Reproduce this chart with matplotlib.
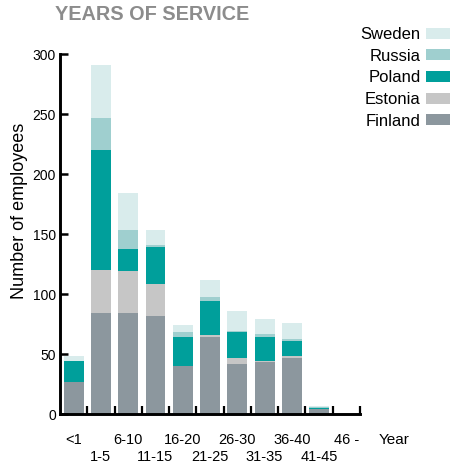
import matplotlib.pyplot as plt
import numpy as np

plt.rcParams['font.family'] = ['Liberation Sans', 'DejaVu Sans']

categories = ['<1', '1-5', '6-10', '11-15', '16-20', '21-25', '26-30',
              '31-35', '36-40', '41-45', '46 -']
finland = [27, 84, 84, 82, 40, 64, 42, 43, 47, 4, 0]
estonia = [0, 36, 35, 26, 0, 2, 5, 1, 1.5, 0, 0]
poland = [17, 100, 18.5, 31.5, 24, 28, 21, 20.5, 12.5, 1, 0]
russia = [0, 26.5, 16, 1, 4, 3.5, 1.5, 2, 1.5, 0.5, 0]
sweden = [4.5, 44, 30.5, 12.5, 6.5, 14, 16, 13, 13.5, 1, 0]

series = [('Finland', finland, '#8c979e'),
          ('Estonia', estonia, '#c6c6c6'),
          ('Poland', poland, '#009f9b'),
          ('Russia', russia, '#9fcfcf'),
          ('Sweden', sweden, '#d9ecec')]

fig = plt.figure(figsize=(4.5, 4.65), dpi=100)
ax = fig.add_axes([60 / 450, 51 / 465, 300 / 450, 360 / 465])

x = np.arange(len(categories))
bottom = np.zeros(len(categories))
handles = {}
for name, vals, col in series:
    b = ax.bar(x, vals, 0.73, bottom=bottom, color=col, label=name, linewidth=0)
    handles[name] = b
    bottom += np.array(vals)

ax.set_xlim(-0.5, len(categories) - 0.5)
ax.set_ylim(0, 300)
for s in ['top', 'right']:
    ax.spines[s].set_visible(False)
for s in ['left', 'bottom']:
    ax.spines[s].set_linewidth(2.1)

ax.set_yticks(np.arange(0, 301, 50))
ax.tick_params(axis='y', direction='in', length=6, width=1.8, labelsize=10, pad=3)
ax.set_xticks(x + 0.5)
ax.set_xticklabels([])
ax.tick_params(axis='x', direction='in', length=6, width=1.6)

# staggered category labels
for i, lab in enumerate(categories):
    yy = -0.072 if i % 2 == 0 else -0.119
    ax.text(i, yy, lab, transform=ax.get_xaxis_transform(), ha='center', va='center',
            fontsize=10.5, clip_on=False)
ax.text(1.063, -0.072, 'Year', transform=ax.transAxes, ha='left', va='center', fontsize=11)

fig.text(20 / 450, 1 - 211 / 465, 'Number of employees', rotation=90,
         ha='center', va='center', fontsize=13)
fig.text(55 / 450, 1 - 14 / 465, 'YEARS OF SERVICE', ha='left', va='center',
         fontsize=14.3, fontweight='bold', color='#8c8c8c')

order = ['Sweden', 'Russia', 'Poland', 'Estonia', 'Finland']
ax.legend([handles[n] for n in order], order, loc='upper right',
          bbox_to_anchor=(1.0, 1 - 27 / 465), bbox_transform=fig.transFigure,
          frameon=False, markerfirst=False, fontsize=12, borderpad=0,
          borderaxespad=0, handlelength=1.45, handleheight=0.65,
          handletextpad=0.3, labelspacing=0.4)

fig.savefig('out.png', dpi=100)
